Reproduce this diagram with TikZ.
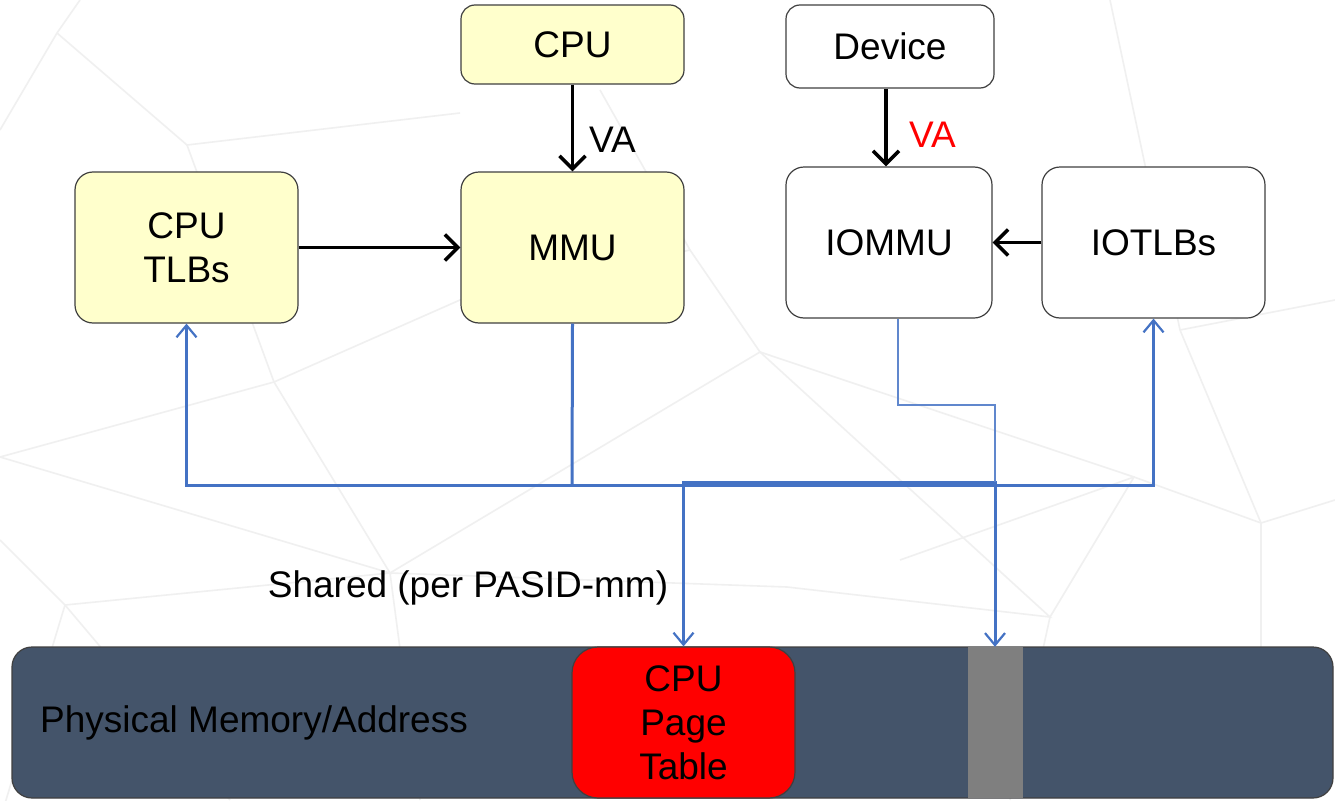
\documentclass[tikz,border=0pt]{standalone}
\usepackage{fontspec}
\setmainfont{Liberation Sans}
\usetikzlibrary{arrows.meta}
\definecolor{boxyellow}{HTML}{FFFFCC}
\definecolor{edgegray}{HTML}{404040}
\definecolor{linkblue}{HTML}{4472C4}
\definecolor{memfill}{HTML}{44546A}
\definecolor{stripegray}{HTML}{7F7F7F}
\definecolor{bgline}{HTML}{F0F0F0}
\begin{document}
\begin{tikzpicture}[x=1pt,y=-1pt,
  box/.style={draw=edgegray, line width=1.2pt, rounded corners=18pt, align=center,
    font=\fontsize{37}{44}\selectfont, inner sep=0pt},
  smallbox/.style={box, rounded corners=14pt},
  cpubox/.style={fill=boxyellow},
  devbox/.style={fill=white},
  lbl/.style={font=\fontsize{37}{44}\selectfont, inner sep=0pt},
  blk/.style={line width=3.5pt, -{Straight Barb[length=13pt,width=26pt,line width=3.5pt]}},
  bl/.style={draw=linkblue, line width=3pt},
  blthin/.style={draw=linkblue!85, line width=1.6pt},
  btip/.tip={Straight Barb[length=12pt,width=20pt,line width=2.2pt]},
  bgl/.style={draw=bgline, line width=1.6pt}
]
\useasboundingbox (0,0) rectangle (1335,800);
\fill[white] (0,0) rectangle (1335,800);
% faint background texture
\draw[bgl] (0,130) -- (57,33) -- (80,0);
\draw[bgl] (57,33) -- (187,145) -- (460,113);
\draw[bgl] (187,145) -- (274,382) -- (0,457);
\draw[bgl] (274,382) -- (390,573) -- (0,457);
\draw[bgl] (0,540) -- (65,605) -- (230,800);
\draw[bgl] (65,605) -- (390,573) -- (420,800);
\draw[bgl] (0,820) -- (65,605);
\draw[bgl] (390,573) -- (760,352) -- (690,250) -- (600,90);
\draw[bgl] (760,352) -- (1134,477) -- (1261,523) -- (1335,500);
\draw[bgl] (760,352) -- (1050,617) -- (787,587) -- (390,573);
\draw[bgl] (1050,617) -- (1010,800);
\draw[bgl] (1261,523) -- (1180,330) -- (1110,0);
\draw[bgl] (1261,523) -- (1261,650);
\draw[bgl] (1134,477) -- (1050,617);
\draw[bgl] (274,382) -- (460,300) -- (690,250);
\draw[bgl] (1180,330) -- (1335,300);
\draw[bgl] (900,560) -- (1134,477);
% boxes
\node[smallbox, cpubox, minimum width=223pt, minimum height=79pt] (cpu) at (572.5,44.5) {CPU};
\node[smallbox, devbox, minimum width=208pt, minimum height=83pt] (dev) at (890,46.5) {Device};
\node[box, cpubox, minimum width=223pt, minimum height=151pt] (tlb) at (186.5,247.5) {CPU\\TLBs};
\node[box, cpubox, minimum width=223pt, minimum height=151pt] (mmu) at (572.5,247.5) {MMU};
\node[box, devbox, minimum width=206pt, minimum height=151pt] (iommu) at (889,242.5) {IOMMU};
\node[box, devbox, minimum width=223pt, minimum height=151pt] (iotlb) at (1153.5,242.5) {IOTLBs};
% memory
\node[box, fill=memfill, minimum width=1321pt, minimum height=151pt, rounded corners=20pt] (mem) at (672.5,722.5) {};
\node[fill=stripegray, inner sep=0pt, minimum width=55pt, minimum height=151pt] (stripe) at (995.5,722.5) {};
\node[box, fill=red, minimum width=223pt, minimum height=151pt, rounded corners=26pt] (pt) at (683.5,722.5) {CPU\\Page\\Table};
\node[lbl, anchor=west] (memlbl) at (40,723) {Physical Memory/Address};
% labels
\node[lbl, anchor=west] (va1) at (589,140) {VA};
\node[lbl, anchor=west, text=red] (va2) at (909,135) {VA};
\node[lbl] (shared) at (468,588) {Shared (per PASID-mm)};
% black arrows
\draw[blk] (cpu) -- (mmu);
\draw[blk] ([xshift=-4pt]dev.south) -- ([xshift=-3pt]iommu.north);
\draw[blk] (tlb.east) -- (mmu.west);
\draw[blk] (iotlb.west) -- (iommu.east);
% blue connectors
\coordinate (j1) at (572,485);
\coordinate (j3) at (995,482);
\coordinate (j4) at (995,405);
\draw[bl] (mmu.south) -- (j1);
\draw[bl, -{btip}] (j1) -| (tlb.south);
\draw[bl, -{btip}] (j1) -| (iotlb.south);
\draw[bl, {btip}-{btip}] (pt.north) |- (j3) -- (j3 |- stripe.north);
\draw[blthin] ([xshift=9pt]iommu.south) |- (j4) -- (j3);
\end{tikzpicture}
\end{document}
